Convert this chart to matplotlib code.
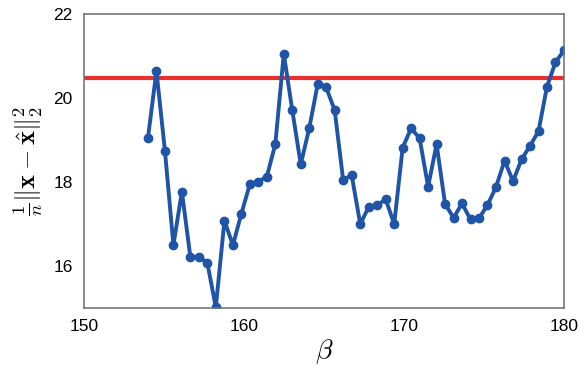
import numpy as np
import matplotlib.pyplot as plt

plt.rcParams['font.family'] = ['Liberation Sans', 'DejaVu Sans']
plt.rcParams['mathtext.fontset'] = 'cm'

# значения beta и ошибки
beta = [154.00, 154.53, 155.06, 155.59, 156.12, 156.65, 157.18, 157.71, 158.24, 158.78,
        159.31, 159.84, 160.37, 160.90, 161.43, 161.96, 162.49, 163.02, 163.55, 164.08,
        164.61, 165.14, 165.67, 166.20, 166.73, 167.27, 167.80, 168.33, 168.86, 169.39,
        169.92, 170.45, 170.98, 171.51, 172.04, 172.57, 173.10, 173.63, 174.16, 174.69,
        175.22, 175.76, 176.29, 176.82, 177.35, 177.88, 178.41, 178.94, 179.47, 180.00]
err = [19.05, 20.64, 18.75, 16.50, 17.77, 16.22, 16.22, 16.08, 15.02, 17.08,
       16.50, 17.25, 17.95, 18.01, 18.13, 18.90, 21.05, 19.71, 18.42, 19.28,
       20.33, 20.25, 19.71, 18.05, 18.17, 17.00, 17.41, 17.45, 17.59, 17.00,
       18.82, 19.28, 19.04, 17.89, 18.90, 17.48, 17.15, 17.49, 17.11, 17.14,
       17.45, 17.89, 18.51, 18.02, 18.54, 18.86, 19.21, 20.27, 20.85, 21.13]
ref_level = 20.48

fig = plt.figure(figsize=(5.79, 3.66), dpi=100)
ax = fig.add_axes([0.145, 0.158, 0.829, 0.804])

ax.axhline(ref_level, color='#e8312f', lw=3.0, zorder=1)
ax.plot(beta, err, color='#1f54a6', lw=2.8, marker='o', ms=6, zorder=2)

ax.set_xlim(150, 180)
ax.set_ylim(15, 22)
ax.set_xticks([150, 160, 170, 180])
ax.set_yticks([16, 18, 20, 22])
ax.tick_params(length=0, labelsize=12.5, pad=8)
for s in ax.spines.values():
    s.set_color('#777777')
    s.set_linewidth(1.2)

ax.set_xlabel(r'$\beta$', fontsize=20, labelpad=2)
ax.set_ylabel(r'$\frac{1}{n}\|\mathbf{x}-\hat{\mathbf{x}}\|_2^2$', fontsize=19, labelpad=6)

fig.savefig('out.png', dpi=100)
